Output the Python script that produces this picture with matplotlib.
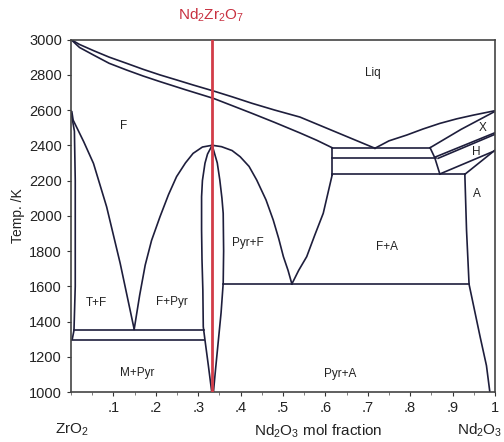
import matplotlib
matplotlib.use("Agg")
import matplotlib.pyplot as plt
from matplotlib.ticker import MultipleLocator

plt.rcParams['font.family'] = ['Liberation Sans', 'DejaVu Sans']
plt.rcParams['mathtext.fontset'] = 'custom'
plt.rcParams['mathtext.rm'] = 'Liberation Sans'
plt.rcParams['mathtext.it'] = 'Liberation Sans:italic'
plt.rcParams['mathtext.bf'] = 'Liberation Sans:bold'

# ---- data (x = Nd2O3 mol fraction, T in K) ----
liq_left_x = [0.0, 0.020, 0.053, 0.090, 0.131, 0.170, 0.210, 0.250, 0.288, 0.336, 0.380, 0.427, 0.480, 0.540, 0.600, 0.660, 0.717]
liq_left_T = [3000, 2972, 2937, 2900, 2865, 2831, 2799, 2770, 2742, 2708, 2675, 2638, 2600, 2560, 2500, 2440, 2383]
sol_left_x = [0.0, 0.020, 0.053, 0.090, 0.131, 0.170, 0.210, 0.270, 0.336, 0.380, 0.427, 0.480, 0.540, 0.580, 0.616]
sol_left_T = [3000, 2955, 2912, 2865, 2827, 2793, 2761, 2715, 2666, 2625, 2581, 2530, 2470, 2428, 2386]
liq_right_x = [0.717, 0.750, 0.792, 0.830, 0.870, 0.910, 0.949, 1.0]
liq_right_T = [2383, 2425, 2458, 2492, 2524, 2550, 2571, 2596]

tf_x = [0.002, 0.005, 0.030, 0.053, 0.084, 0.116, 0.149]
tf_T = [2590, 2543, 2420, 2297, 2051, 1730, 1356]
t_x = [0.0, 0.008, 0.010, 0.010, 0.007, 0.003]
t_T = [2590, 2480, 2200, 1600, 1350, 1300]

dome_l_x = [0.149, 0.162, 0.175, 0.190, 0.210, 0.230, 0.249, 0.270, 0.288, 0.310, 0.333]
dome_l_T = [1356, 1550, 1720, 1860, 1995, 2120, 2222, 2300, 2354, 2390, 2400]
dome_r_x = [0.333, 0.355, 0.380, 0.399, 0.420, 0.438, 0.460, 0.477, 0.490, 0.501, 0.512, 0.521]
dome_r_T = [2400, 2392, 2370, 2335, 2280, 2203, 2090, 1976, 1870, 1768, 1690, 1613]

pyr_l_x = [0.333, 0.322, 0.316, 0.310, 0.308, 0.308, 0.309, 0.311, 0.312, 0.316, 0.324, 0.332]
pyr_l_T = [2400, 2350, 2298, 2200, 2108, 1919, 1749, 1579, 1370, 1295, 1150, 1000]
pyr_r_x = [0.333, 0.345, 0.351, 0.356, 0.359, 0.360, 0.359, 0.354, 0.347, 0.341, 0.336]
pyr_r_T = [2400, 2300, 2203, 2100, 2014, 1800, 1618, 1450, 1278, 1130, 1000]

fa_x = [0.616, 0.595, 0.575, 0.556, 0.537, 0.521]
fa_T = [2231, 2014, 1890, 1768, 1690, 1613]

a_x = [0.929, 0.933, 0.939, 0.965, 0.980, 0.988]
a_T = [2237, 1919, 1611, 1314, 1150, 1000]

# horizontal invariant lines: (x_start, x_end, T)
h_lines = [
    (0.007, 0.314, 1352),
    (0.000, 0.314, 1297),
    (0.358, 0.939, 1613),
    (0.616, 0.847, 2386),
    (0.616, 0.860, 2328),
    (0.616, 0.930, 2237),
]
box_left_x = [0.616, 0.616]
box_left_T = [2386, 2231]

# high-T Nd2O3-rich polymorph boundaries
x_up_x = [0.847, 0.920, 1.0]
x_up_T = [2386, 2490, 2592]
xh_step_x = [0.847, 0.858, 0.870]
xh_step_T = [2386, 2330, 2237]
xh1_x = [0.858, 1.0]
xh1_T = [2332, 2471]
xh2_x = [0.866, 1.0]
xh2_T = [2326, 2462]
h_low_x = [0.870, 1.0]
h_low_T = [2237, 2369]
a_up_x = [0.930, 1.0]
a_up_T = [2237, 2372]

compound_x = 1 / 3

labels = [
    ("Liq", 0.712, 2810), ("F", 0.123, 2510), ("X", 0.972, 2498),
    ("H", 0.955, 2362), ("A", 0.958, 2124), ("Pyr+F", 0.417, 1845),
    ("F+A", 0.745, 1823), ("T+F", 0.061, 1505), ("F+Pyr", 0.238, 1510),
    ("M+Pyr", 0.156, 1108), ("Pyr+A", 0.634, 1102),
]
x_ticks = [0.1, 0.2, 0.3, 0.4, 0.5, 0.6, 0.7, 0.8, 0.9, 1.0]
x_tick_labels = [".1", ".2", ".3", ".4", ".5", ".6", ".7", ".8", ".9", "1"]
y_ticks = list(range(1000, 3001, 200))

# ---- drawing ----
fig = plt.figure(figsize=(5.04, 4.42), dpi=100)
ax = fig.add_axes([0.1409, 0.1131, 0.8411, 0.7975])
lc = '#1e1e3c'
lw = 1.2

curves = [
    (liq_left_x, liq_left_T), (sol_left_x, sol_left_T), (liq_right_x, liq_right_T),
    (tf_x, tf_T), (t_x, t_T), (dome_l_x, dome_l_T), (dome_r_x, dome_r_T),
    (pyr_l_x, pyr_l_T), (pyr_r_x, pyr_r_T), (fa_x, fa_T), (a_x, a_T),
    (box_left_x, box_left_T), (x_up_x, x_up_T), (xh_step_x, xh_step_T),
    (xh1_x, xh1_T), (xh2_x, xh2_T), (h_low_x, h_low_T), (a_up_x, a_up_T),
]
for cx, cT in curves:
    ax.plot(cx, cT, color=lc, lw=lw, solid_joinstyle='round')
for x0, x1, T in h_lines:
    ax.plot([x0, x1], [T, T], color=lc, lw=lw)

ax.axvline(compound_x, color='#d23c48', lw=2.0, zorder=5)

for txt, x, T in labels:
    ax.text(x, T, txt, fontsize=8.5, ha='center', va='center', color='#222222')

ax.set_xlim(0, 1)
ax.set_ylim(1000, 3000)
ax.set_xticks(x_ticks)
ax.set_xticklabels(x_tick_labels)
ax.xaxis.set_minor_locator(MultipleLocator(0.05))
ax.set_yticks(y_ticks)
ax.tick_params(axis='both', which='major', labelsize=10.5, length=3, width=0.8,
               colors='#333333', labelcolor='#222222')
ax.tick_params(axis='x', which='minor', length=2, width=0.6, colors='#666666')
for s in ax.spines.values():
    s.set_color('#444444')
    s.set_linewidth(1.2)

ax.set_ylabel("Temp. /K", fontsize=10, color='#222222', labelpad=3)

fig.text(211 / 504, 1 - 15 / 442, r"Nd$_2$Zr$_2$O$_7$", color='#c83040',
         fontsize=11, ha='center', va='center')
fig.text(72 / 504, 1 - 430 / 442, r"ZrO$_2$", fontsize=11, ha='center', va='center',
         color='#222222')
fig.text(318 / 504, 1 - 431 / 442, r"Nd$_2$O$_3$ mol fraction", fontsize=11,
         ha='center', va='center', color='#222222')
fig.text(502 / 504, 1 - 430 / 442, r"Nd$_2$O$_3$", fontsize=11, ha='right',
         va='center', color='#222222')

fig.savefig("out.png", dpi=100, facecolor='white')
